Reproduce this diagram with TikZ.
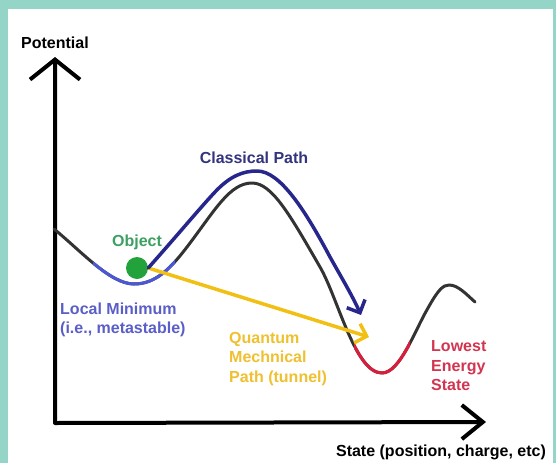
\documentclass[tikz,border=0pt]{standalone}
\usepackage{fontspec}
\setmainfont{Liberation Sans}
\usetikzlibrary{positioning,arrows.meta}

\definecolor{frame}{HTML}{94D5C7}
\definecolor{curve}{HTML}{333333}
\definecolor{localmin}{HTML}{4A58D8}
\definecolor{lowest}{HTML}{D81E3C}
\definecolor{tunnel}{HTML}{F2C014}
\definecolor{classical}{HTML}{26268C}
\definecolor{objgreen}{HTML}{22A23A}
\definecolor{objtext}{HTML}{3DA062}
\definecolor{classtext}{HTML}{34347E}
\definecolor{localtext}{HTML}{5A5EC8}
\definecolor{tunneltext}{HTML}{EFC030}
\definecolor{lowtext}{HTML}{D23550}

\begin{document}
\begin{tikzpicture}[x=1pt, y=-1pt,
  lbl/.style={font=\bfseries\fontsize{16}{19.5}\selectfont, inner sep=0pt, align=left},
  pot/.style={line width=3pt, line cap=round, line join=round},
  axis/.style={line width=4pt, line cap=round, line join=round},
  path/.style={line width=3.5pt, line cap=round, line join=round}]

  \useasboundingbox (0,0) rectangle (556,463);
  \fill[frame] (0,0) rectangle (556,463);
  \fill[white] (8,9) rectangle (553,463);

  % axes
  \coordinate (origin) at (55,423);
  \coordinate (y-tip) at (55,57);
  \coordinate (x-tip) at (486,422);
  \draw[axis, {Straight Barb[length=20pt,width=50pt]}-{Straight Barb[length=21pt,width=34pt]}]
    (y-tip) -- (origin) -- (x-tip);
  \node[lbl, above=8pt of y-tip] (potential) {Potential}; %
  \node[lbl] (state) at (441,452) {State (position, charge, etc)}; %

  % energy landscape, the two wells coloured on top
  \def\landscape{(54,229) .. controls (80,250) and (110,284) .. (134,284)
    .. controls (155,284) and (170,270) .. (190,243)
    .. controls (215,210) and (230,183) .. (252,183)
    .. controls (272,183) and (290,215) .. (320,267)
    .. controls (338,298) and (355,373) .. (382,373)
    .. controls (400,373) and (415,330) .. (428,308)
    .. controls (438,290) and (443,285) .. (449,285)
    .. controls (458,285) and (466,294) .. (475,302)}
  \draw[pot, curve] \landscape;
  \begin{scope}
    \clip (93,0) rectangle (175,463);
    \draw[pot, localmin] \landscape;
  \end{scope}
  \begin{scope}
    \clip (354,0) rectangle (410,463);
    \draw[pot, lowest] \landscape;
  \end{scope}

  \node[circle, fill=objgreen, minimum size=22pt, inner sep=0pt] (ball) at (137,268) {}; %
  \node[lbl, text=objtext, above=7pt of ball] (object) {Object}; %

  % the two ways out of the well
  \coordinate (tunnel-end) at (369,337);
  \coordinate (classical-end) at (361,315);
  \draw[path, tunnel, -{Straight Barb[length=10pt,width=20pt]}] (ball.east) -- (tunnel-end);
  \draw[path, classical, -{Straight Barb[length=10pt,width=20pt]}]
    (ball.east) .. controls (175,238) and (200,208) .. (215,192)
    .. controls (230,176) and (243,171) .. (257,171)
    .. controls (280,171) and (305,210) .. (330,257)
    .. controls (340,275) and (352,295) .. (classical-end);

  \node[lbl, text=classtext] (class-lbl) at (254,158) {Classical Path}; %
  \node[lbl, text=localtext, anchor=west] (local-lbl) at (60,320) {Local Minimum\\(i.e., metastable)}; %
  \node[lbl, text=tunneltext, anchor=west] (quantum-lbl) at (229,359) {Quantum\\Mechnical\\Path (tunnel)}; %
  \node[lbl, text=lowtext, anchor=west] (lowest-lbl) at (431,366) {Lowest\\Energy\\State}; %

\end{tikzpicture}
\end{document}
